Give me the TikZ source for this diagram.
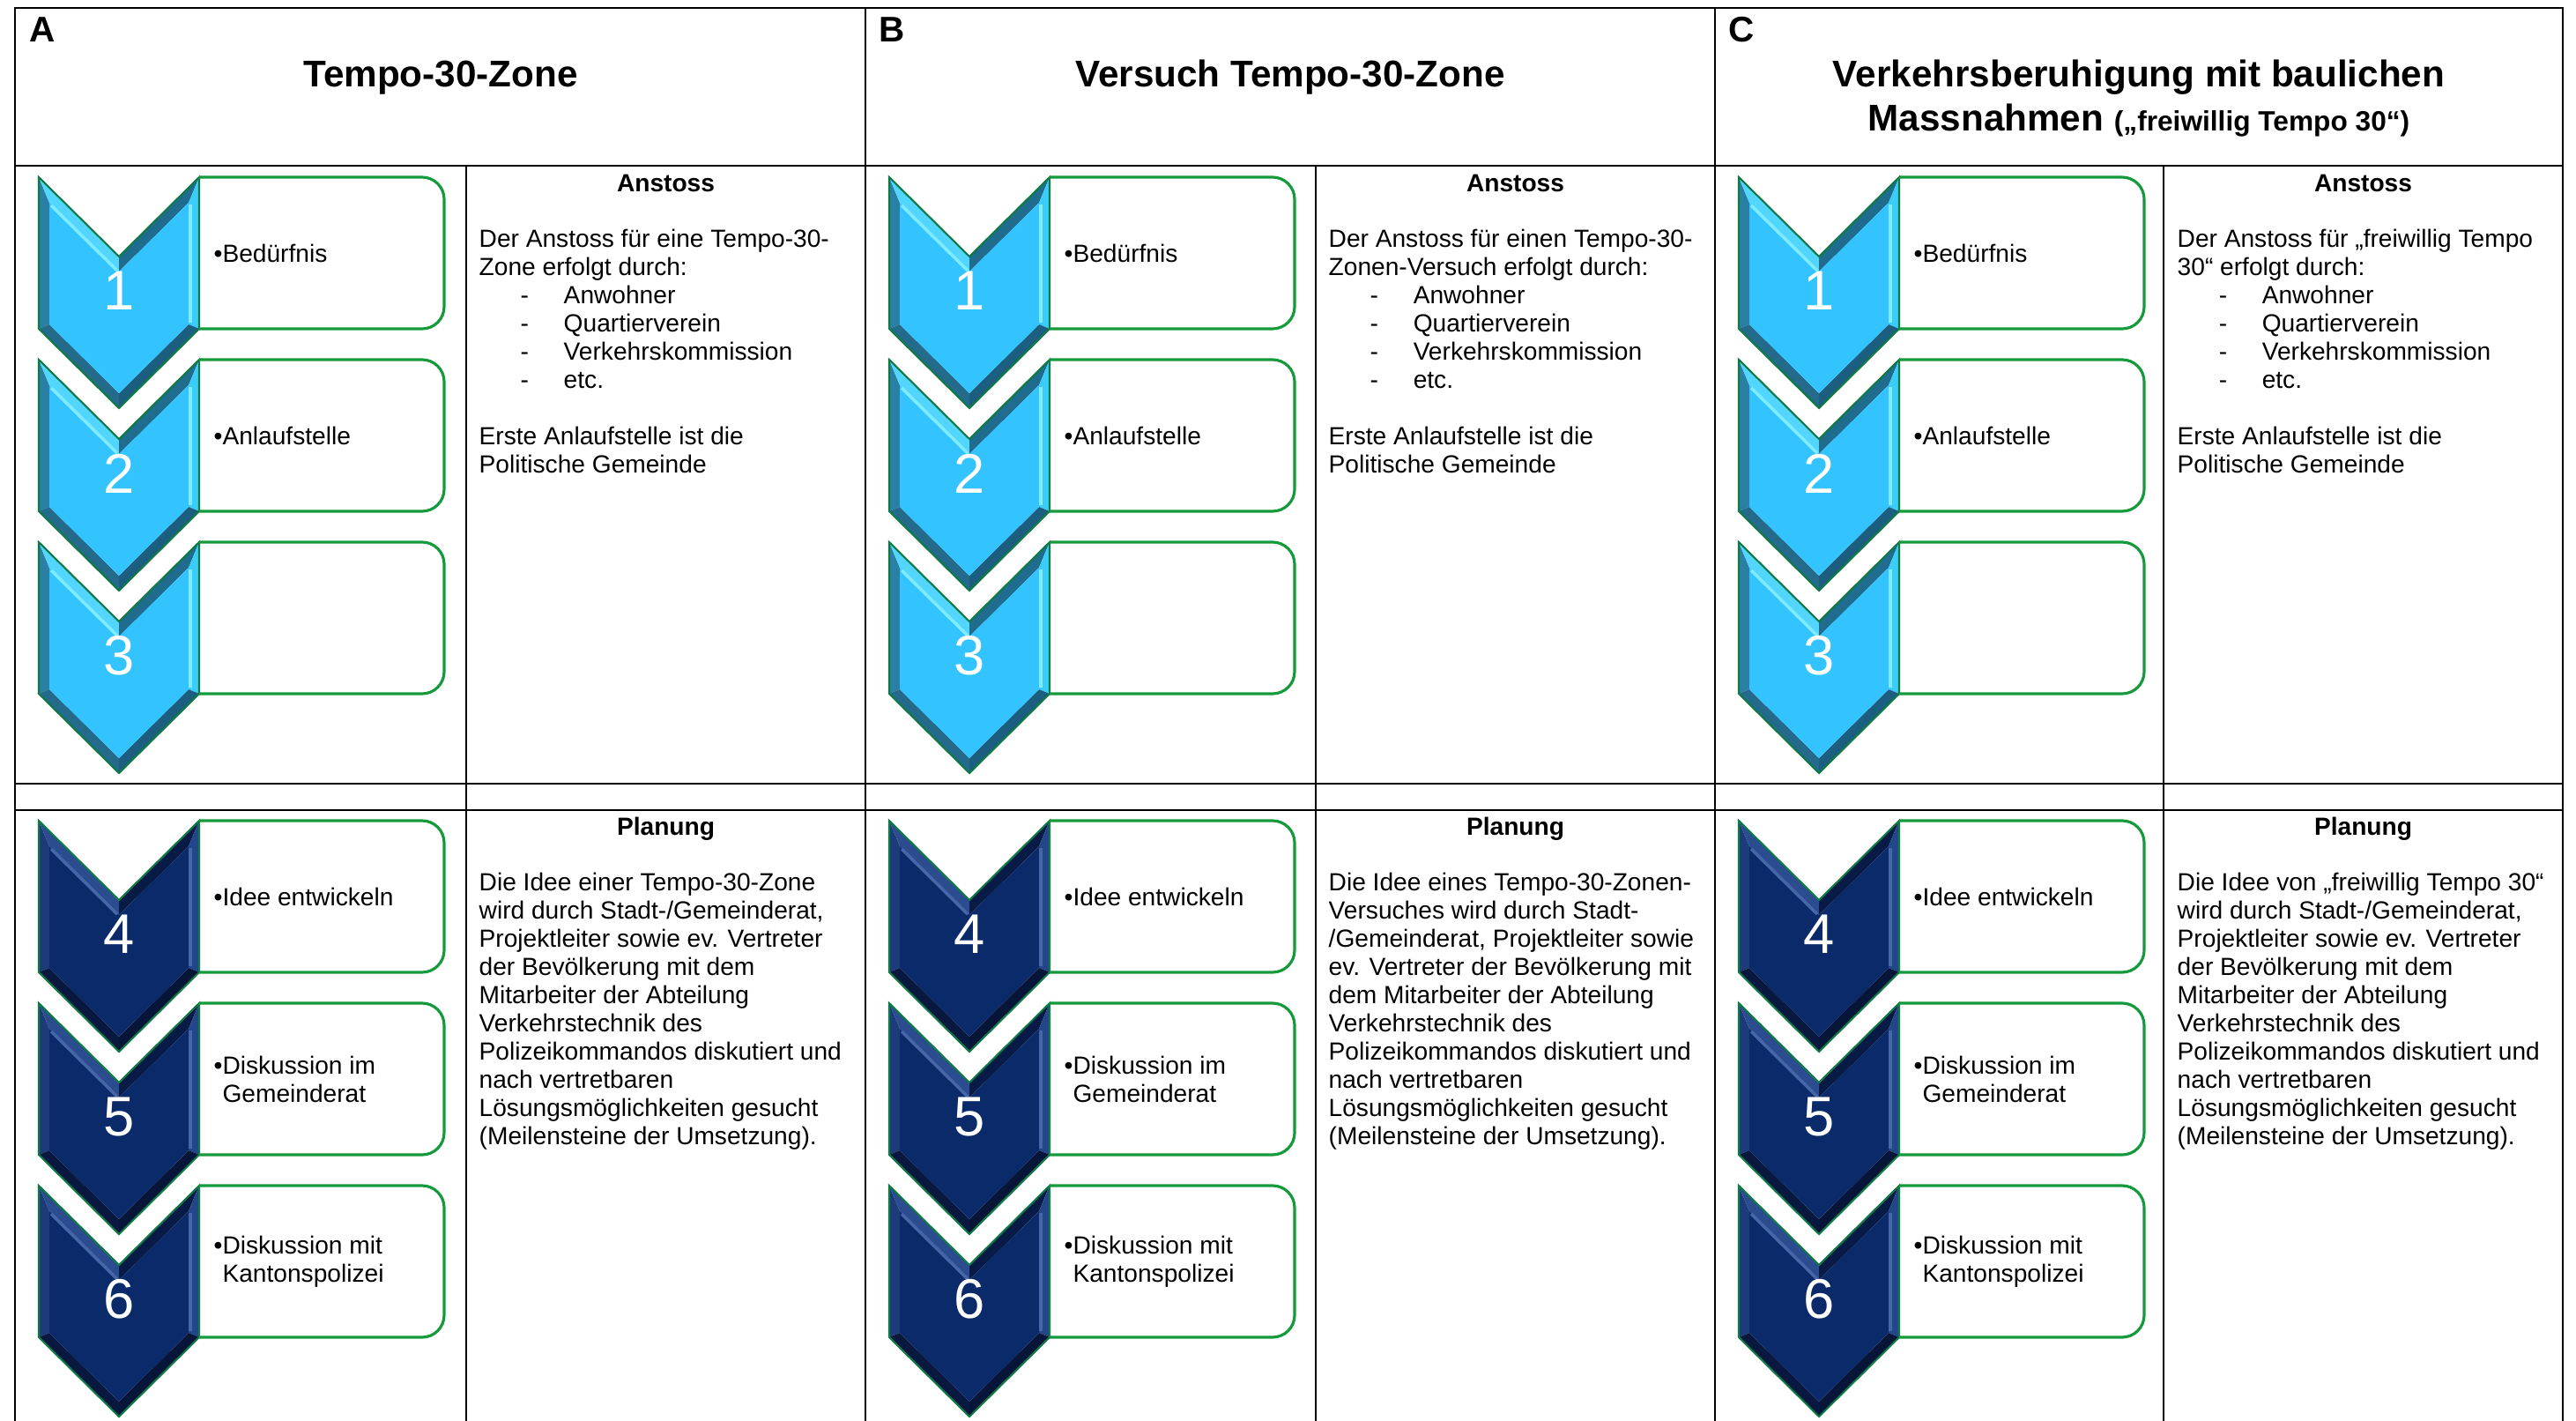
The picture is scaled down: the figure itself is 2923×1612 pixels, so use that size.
\documentclass[tikz,border=0pt]{standalone}
\usepackage{fontspec}
\setmainfont{Liberation Sans}
\usetikzlibrary{positioning}

\definecolor{lbF}{HTML}{33C3FF}
\definecolor{lbL}{HTML}{2A7FA5}
\definecolor{lbTL}{HTML}{52D6FF}
\definecolor{lbTR}{HTML}{1F6C8E}
\definecolor{lbR}{HTML}{3BCDFA}
\definecolor{lbBR}{HTML}{1B5E80}
\definecolor{lbBL}{HTML}{246A8A}
\definecolor{lbH}{HTML}{7EEBFF}
\definecolor{nbF}{HTML}{0B2A6A}
\definecolor{nbL}{HTML}{1D3B78}
\definecolor{nbTL}{HTML}{2B4C8E}
\definecolor{nbTR}{HTML}{081A46}
\definecolor{nbR}{HTML}{23458A}
\definecolor{nbBR}{HTML}{071638}
\definecolor{nbBL}{HTML}{09183F}
\definecolor{nbH}{HTML}{4766A8}
\definecolor{boxgreen}{HTML}{14993B}
\definecolor{chevgreen}{HTML}{0F7A45}

\newcommand{\dash}{\hspace*{4.7mm}\makebox[4.9mm][l]{-}}

% one step: chevron with number and rounded box
\newcommand{\stepchev}[6]{%
  \begin{scope}[shift={(#1,#2)}]
    \fill[#3L] (0,0) -- (12,29) -- (12,167) -- (0,172) -- cycle;
    \fill[#3TL] (0,0) -- (91,90) -- (91,107) -- (12,29) -- cycle;
    \fill[#3TR] (91,90) -- (182,0) -- (170,29) -- (91,107) -- cycle;
    \fill[#3R] (182,0) -- (182,172) -- (170,167) -- (170,29) -- cycle;
    \fill[#3BR] (182,172) -- (91,262) -- (91,245) -- (170,167) -- cycle;
    \fill[#3BL] (91,262) -- (0,172) -- (12,167) -- (91,245) -- cycle;
    \fill[#3F] (12,29) -- (91,107) -- (170,29) -- (170,167) -- (91,245) -- (12,167) -- cycle;
    \draw[#3H,line width=1pt] (14,32) -- (89,106);
    \draw[#3H,line width=1pt] (172,31) -- (172,165);
    \draw[chevline] (0,0) -- (91,90) -- (182,0) -- (182,172) -- (91,262) -- (0,172) -- cycle;
    \draw[stepbox] (182,0) -- (460,0) -- (460,172) -- (182,172);
    \node[num] (#6n) at (91,129) {#4};
    \node[item] (#6t) at (198,86) {#5};
  \end{scope}}

\begin{document}
\begin{tikzpicture}[x=0.01cm,y=-0.01cm,
  grid/.style={draw=black,line width=0.8pt,line cap=rect},
  chevline/.style={draw=chevgreen,line width=0.6pt,line join=miter},
  stepbox/.style={draw=boxgreen,line width=0.9pt,rounded corners=2.5mm},
  num/.style={text=white,font=\fontsize{18}{20}\selectfont,inner sep=0pt},
  item/.style={anchor=west,align=left,font=\fontsize{8}{9.1}\selectfont,inner sep=0pt},
  head/.style={anchor=base,font=\bfseries\fontsize{8}{9.1}\selectfont,inner sep=0pt},
  body/.style={anchor=north west,align=left,font=\fontsize{8}{9.1}\selectfont,inner sep=0pt},
  title/.style={align=center,font=\bfseries\fontsize{12}{14.2}\selectfont,inner sep=0pt},
  letter/.style={anchor=north west,font=\bfseries\fontsize{11.5}{13}\selectfont,inner sep=0pt}]
\useasboundingbox (0,0) rectangle (2923,1612);

\foreach \x in {17,982,1946,2908} \draw[grid] (\x,9) -- (\x,1612);
\foreach \x in {529,1493,2455} \draw[grid] (\x,188) -- (\x,1612);
\foreach \y in {9,188,889,919} \draw[grid] (17,\y) -- (2908,\y);

\node[letter] (letA) at (33,19) {A};
\node[letter] (letB) at (997,19) {B};
\node[letter] (letC) at (1961,19) {C};
\node[title,anchor=base] (titA) at (500,98) {Tempo-30-Zone};
\node[title,anchor=base] (titB) at (1464,98) {Versuch Tempo-30-Zone};
\node[title] (titC) at (2427,112) {Verkehrsberuhigung mit baulichen\\Massnahmen {\fontsize{9}{10}\selectfont(„freiwillig Tempo 30“)}};

\foreach \cx [count=\ci] in {44,1009,1973} {
  \foreach \k/\sy/\txt in {1/201/{•Bedürfnis}, 2/408/{•Anlaufstelle}, 3/615/{}}
    {\stepchev{\cx}{\sy}{lb}{\k}{\txt}{s\ci-\k}}
  \foreach \k/\sy/\txt in {4/931/{•Idee entwickeln}, 5/1138/{•Diskussion im\\\phantom{•}Gemeinderat}, 6/1345/{•Diskussion mit\\\phantom{•}Kantonspolizei}}
    {\stepchev{\cx}{\sy}{nb}{\k}{\txt}{s\ci-\k}}
}

\foreach \hx [count=\ci] in {755.5,1719.5,2681.5} {
  \node[head] (ans\ci) at (\hx,217) {Anstoss};
  \node[head] (plan\ci) at (\hx,947) {Planung};
}

\node[body] (bodyA1) at (543,259) {Der Anstoss für eine Tempo-30-\\Zone erfolgt durch:\\\dash Anwohner\\\dash Quartierverein\\\dash Verkehrskommission\\\dash etc.\\[9.1pt]Erste Anlaufstelle ist die\\Politische Gemeinde};
\node[body] (bodyB1) at (1507,259) {Der Anstoss für einen Tempo-30-\\Zonen-Versuch erfolgt durch:\\\dash Anwohner\\\dash Quartierverein\\\dash Verkehrskommission\\\dash etc.\\[9.1pt]Erste Anlaufstelle ist die\\Politische Gemeinde};
\node[body] (bodyC1) at (2470,259) {Der Anstoss für „freiwillig Tempo\\30“ erfolgt durch:\\\dash Anwohner\\\dash Quartierverein\\\dash Verkehrskommission\\\dash etc.\\[9.1pt]Erste Anlaufstelle ist die\\Politische Gemeinde};

\node[body] (bodyA2) at (543,989) {Die Idee einer Tempo-30-Zone\\wird durch Stadt-/Gemeinderat,\\Projektleiter sowie ev. Vertreter\\der Bevölkerung mit dem\\Mitarbeiter der Abteilung\\Verkehrstechnik des\\Polizeikommandos diskutiert und\\nach vertretbaren\\Lösungsmöglichkeiten gesucht\\(Meilensteine der Umsetzung).};
\node[body] (bodyB2) at (1507,989) {Die Idee eines Tempo-30-Zonen-\\Versuches wird durch Stadt-\\/Gemeinderat, Projektleiter sowie\\ev. Vertreter der Bevölkerung mit\\dem Mitarbeiter der Abteilung\\Verkehrstechnik des\\Polizeikommandos diskutiert und\\nach vertretbaren\\Lösungsmöglichkeiten gesucht\\(Meilensteine der Umsetzung).};
\node[body] (bodyC2) at (2470,989) {Die Idee von „freiwillig Tempo 30“\\wird durch Stadt-/Gemeinderat,\\Projektleiter sowie ev. Vertreter\\der Bevölkerung mit dem\\Mitarbeiter der Abteilung\\Verkehrstechnik des\\Polizeikommandos diskutiert und\\nach vertretbaren\\Lösungsmöglichkeiten gesucht\\(Meilensteine der Umsetzung).};
\end{tikzpicture}
\end{document}
